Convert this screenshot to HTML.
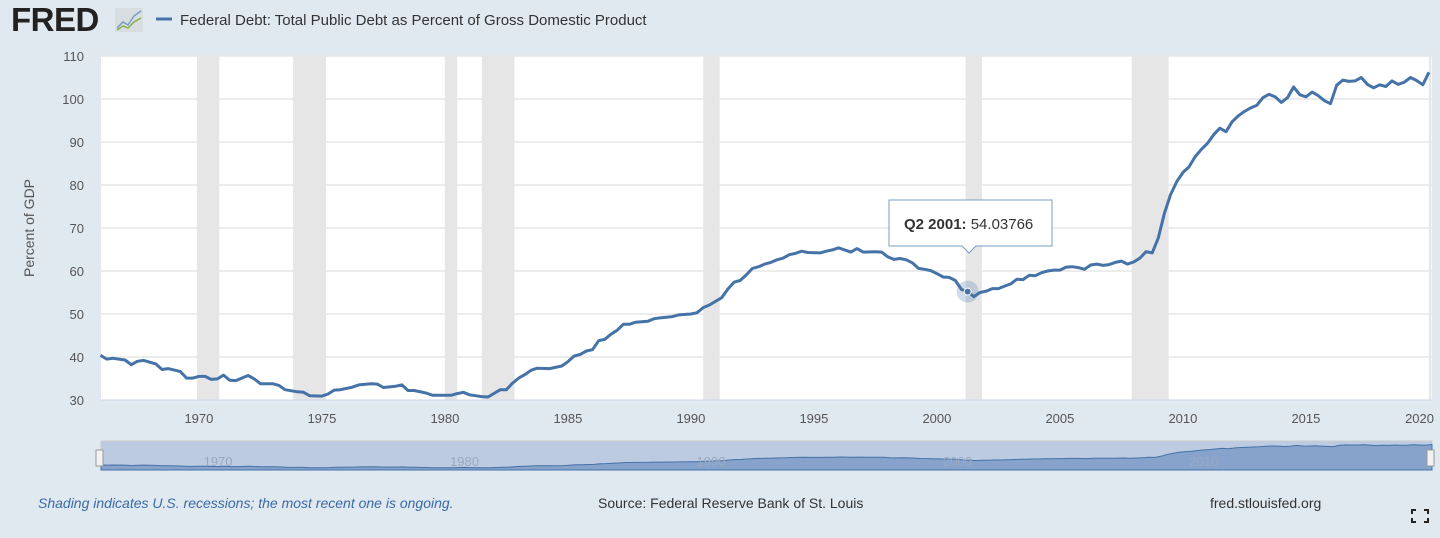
<!DOCTYPE html>
<html><head><meta charset="utf-8"><style>
body{margin:0;background:#e1e9f0;font-family:"Liberation Sans",sans-serif;}
svg text{font-family:"Liberation Sans",sans-serif;}
</style></head><body>
<svg width="1440" height="533" xmlns="http://www.w3.org/2000/svg" id="c">
<rect width="1440" height="533" fill="#e1e9f0"/>
<text x="11" y="31" font-size="33" font-weight="bold" fill="#222" letter-spacing="-0.5">FRED</text>
<rect x="115" y="8" width="28" height="24" fill="#d8dde2"/>
<polyline points="117,28 123,22 128,25 134,16 141,11" fill="none" stroke="#7a9cc6" stroke-width="1.5"/>
<polyline points="117,30 123,26 128,28 134,22 141,18" fill="none" stroke="#8bb04a" stroke-width="1.5"/>
<line x1="156" y1="19" x2="172" y2="19" stroke="#4572a7" stroke-width="3"/>
<text x="180" y="25" font-size="15" fill="#333">Federal Debt: Total Public Debt as Percent of Gross Domestic Product</text>
<rect x="101" y="56" width="1331" height="344" fill="#fff"/>
<g id="rec"></g><g id="grid"></g><g id="xt"></g>
<text transform="translate(34,228) rotate(-90)" text-anchor="middle" font-size="14" fill="#555">Percent of GDP</text>
<path id="line" fill="none" stroke="#4572a7" stroke-width="3" stroke-linejoin="round"/>
<g id="tip"></g>
<rect x="101" y="441" width="1331" height="29" fill="#bccbe2" stroke="#ccc"/>
<path id="nav" fill="#87a3cb" stroke="#4572a7" stroke-width="1"/>
<g id="navt"></g>
<rect x="96" y="450" width="7" height="16" fill="#f2f2f2" stroke="#999"/>
<rect x="1427" y="450" width="7" height="16" fill="#f2f2f2" stroke="#999"/>
<text x="38" y="508" font-size="14" font-style="italic" fill="#3b6aa8">Shading indicates U.S. recessions; the most recent one is ongoing.</text>
<text x="598" y="508" font-size="14" fill="#333">Source: Federal Reserve Bank of St. Louis</text>
<text x="1210" y="508" font-size="14" fill="#333">fred.stlouisfed.org</text>
<path d="M1412 514v-4h4M1424 510h4v4M1428 518v4h-4M1416 522h-4v-4" fill="none" stroke="#222" stroke-width="2"/>
</svg>
<script>
const dates=[1966,1966.25,1966.5,1967,1967.25,1967.5,1967.75,1968.25,1968.5,1968.75,1969.25,1969.5,1969.75,1970,1970.25,1970.5,1970.75,1971,1971.25,1971.5,1972,1972.25,1972.5,1973,1973.25,1973.5,1974,1974.25,1974.5,1975,1975.25,1975.5,1975.75,1976.25,1976.5,1977,1977.25,1977.5,1978,1978.25,1978.5,1978.75,1979.25,1979.5,1980,1980.25,1980.5,1980.75,1981,1981.5,1981.75,1982.25,1982.5,1982.75,1983,1983.25,1983.5,1983.75,1984.25,1984.75,1985,1985.25,1985.5,1985.75,1986,1986.25,1986.5,1986.75,1987,1987.25,1987.5,1987.75,1988.25,1988.5,1988.75,1989.25,1989.5,1990,1990.25,1990.5,1990.75,1991.25,1991.5,1991.75,1992,1992.25,1992.5,1992.75,1993,1993.25,1993.5,1993.75,1994,1994.25,1994.5,1994.75,1995.25,1995.5,1995.75,1996,1996.5,1996.75,1997,1997.5,1997.75,1998,1998.25,1998.5,1998.75,1999,1999.25,1999.5,1999.75,2000,2000.25,2000.5,2000.75,2001,2001.25,2001.5,2001.75,2002,2002.25,2002.5,2002.75,2003,2003.25,2003.5,2003.75,2004,2004.25,2004.5,2004.75,2005,2005.25,2005.5,2005.75,2006,2006.25,2006.5,2006.75,2007,2007.25,2007.5,2007.75,2008,2008.25,2008.5,2008.75,2009,2009.25,2009.5,2009.75,2010,2010.25,2010.5,2010.75,2011,2011.25,2011.5,2011.75,2012,2012.25,2012.5,2012.75,2013,2013.25,2013.5,2013.75,2014,2014.25,2014.5,2014.75,2015,2015.25,2015.5,2015.75,2016,2016.25,2016.5,2016.75,2017,2017.25,2017.5,2017.75,2018,2018.25,2018.5,2018.75,2019,2019.25,2019.5,2019.75,2020];
const values=[40.4,39.5,39.7,39.3,38.2,39.0,39.2,38.4,37.1,37.3,36.6,35.1,35.1,35.5,35.5,34.8,34.9,35.8,34.6,34.5,35.7,34.9,33.8,33.8,33.4,32.4,31.9,31.8,31.0,30.9,31.4,32.3,32.4,33.0,33.5,33.8,33.7,32.9,33.2,33.5,32.2,32.2,31.6,31.1,31.1,31.1,31.5,31.8,31.2,30.8,30.7,32.4,32.4,33.9,35.1,35.9,36.9,37.4,37.3,37.9,38.9,40.2,40.6,41.4,41.7,43.8,44.1,45.3,46.2,47.6,47.6,48.1,48.3,48.9,49.1,49.4,49.8,50.0,50.3,51.5,52.1,53.8,55.8,57.4,57.8,59.1,60.6,61.0,61.6,62.0,62.6,63.0,63.8,64.1,64.6,64.3,64.2,64.6,64.9,65.4,64.4,65.2,64.4,64.5,64.4,63.3,62.7,62.9,62.6,61.9,60.6,60.4,60.1,59.4,58.6,58.5,57.8,55.7,55.2,54.04,55.0,55.3,55.9,55.9,56.5,57.0,58.1,58.0,59.0,58.9,59.6,60.0,60.2,60.2,60.9,61.0,60.8,60.4,61.4,61.6,61.3,61.5,62.0,62.3,61.6,62.1,63.0,64.5,64.2,67.7,73.5,77.8,80.8,82.9,84.2,86.6,88.3,89.7,91.7,93.2,92.4,94.7,96.1,97.1,97.9,98.5,100.3,101.1,100.5,99.2,100.3,102.8,101.0,100.5,101.6,100.8,99.6,98.9,103.2,104.4,104.1,104.2,105.0,103.4,102.6,103.3,102.9,104.2,103.4,103.9,105.0,104.3,103.3,106.2,107.6];
const yTicks=[30,40,50,60,70,80,90,100,110];
const xTicks=[1970,1975,1980,1985,1990,1995,2000,2005,2010,2015,2020];
const recStart=[1969.92,1973.83,1980.0,1981.5,1990.5,2001.17,2007.92,2020.0];
const recEnd=[1970.83,1975.17,1980.5,1982.83,1991.17,2001.83,2009.42,2020.1];
const navTicks=[1970,1980,1990,2000,2010];
const tipIndex=118;
const NS='http://www.w3.org/2000/svg';
const X=d=>100.5+(d-1966)*24.6, Y=v=>400-(v-30)*4.3;
function mk(t,a,p){const e=document.createElementNS(NS,t);for(const k in a)e.setAttribute(k,a[k]);document.getElementById(p).appendChild(e);return e;}
recStart.forEach((s,i)=>{const e=Math.min(X(recEnd[i]),1432);const r=mk('rect',{x:X(s),y:56,width:Math.max(e-X(s),1),height:344,fill:'#e6e6e6'},'rec');

});
yTicks.forEach(v=>{if(v>30){const l=mk('line',{x1:101,x2:1432,y1:Y(v),y2:Y(v),stroke:'#e6e6e6','stroke-width':1.5},'grid');

}
const t=mk('text',{x:84,y:Y(v)+5,'text-anchor':'end','font-size':13,fill:'#555'},'grid');t.textContent=v;

});
mk('line',{x1:101,x2:1432,y1:400,y2:400,stroke:'#ccd6eb'},'xt');
xTicks.forEach(d=>{const last=X(d)+14>1436;const t=mk('text',{x:last?1434:X(d),y:423,'text-anchor':last?'end':'middle','font-size':13,fill:'#555'},'xt');t.textContent=d;

});
document.getElementById('line').setAttribute('d',dates.map((d,i)=>(i?'L':'M')+X(d).toFixed(1)+' '+Y(values[i]).toFixed(1)).join(''));
const NX=d=>101+(d-1966)*(1331/54), NY=v=>468-(v-30)*0.31;
document.getElementById('nav').setAttribute('d','M101 470'+dates.map((d,i)=>'L'+NX(d).toFixed(1)+' '+NY(values[i]).toFixed(1)).join('')+'L1432 470Z');
navTicks.forEach(d=>{const t=mk('text',{x:NX(d)+4,y:466,'font-size':13,fill:'#9aa9c0'},'navt');t.textContent=d;

});
const px=X(dates[tipIndex]),py=Y(values[tipIndex]);
mk('circle',{cx:px,cy:py,r:11,fill:'#4572a7','fill-opacity':0.25},'tip');
mk('circle',{cx:px,cy:py,r:3.5,fill:'#4572a7',stroke:'#fff','stroke-width':1},'tip');
const b=mk('path',{d:`M889 200h163v46h-76l-7 7-7-7h-73z`,fill:'#fff',stroke:'#7a9cc6','stroke-width':1},'tip');


const tt=mk('text',{x:904,y:229,'font-size':15,fill:'#333'},'tip');
tt.innerHTML='<tspan font-weight="bold">Q2 2001:</tspan> 54.03766';


</script>
</body></html>
